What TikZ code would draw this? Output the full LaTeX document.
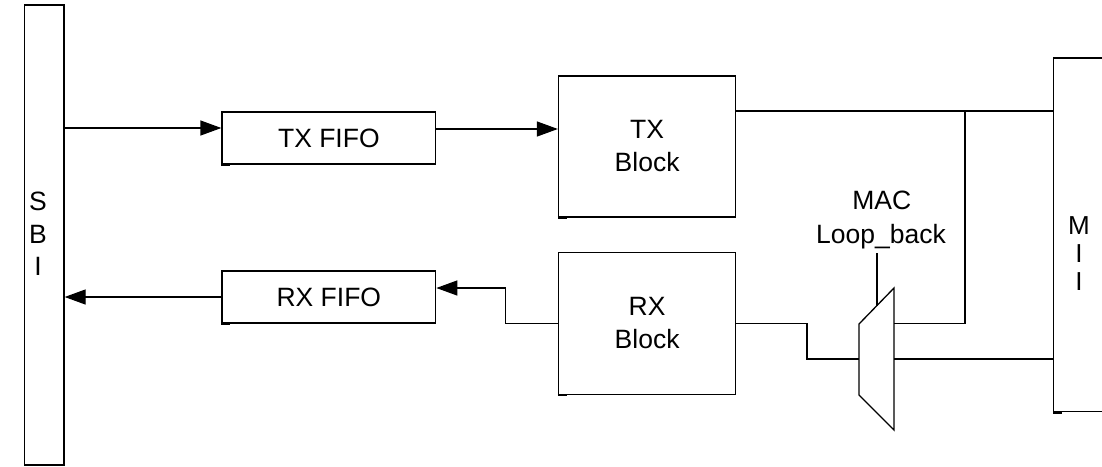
\documentclass[tikz,border=0pt]{standalone}
\usepackage{fontspec}
\setmainfont{Liberation Sans}
\usetikzlibrary{arrows.meta}
\begin{document}
\begin{tikzpicture}[x=1pt,y=-1pt,
  line width=1.3pt,
  blk/.style={draw, rectangle, inner sep=0pt, align=center,
    font=\fontsize{26.5}{33}\selectfont},
  lbl/.style={inner sep=0pt, align=center},
  arr/.style={-{Triangle[length=21pt,width=15pt]}},
  shade/.style={line width=2.4pt}]
\clip (0,0) rectangle (1102,466);
\fill[white] (0,0) rectangle (1102,466);
% boxes
\node[blk, minimum width=39.5, minimum height=460] (sbi) at (44.25,235) {};
\node[lbl, font=\fontsize{26.5}{32.7}\selectfont] (sbit) at (38,234) {S\\B\\I};
\node[blk, minimum width=213.7, minimum height=52] (txf) at (328.85,138) {TX FIFO};
\node[blk, minimum width=213.7, minimum height=52] (rxf) at (328.85,297) {RX FIFO};
\node[blk, minimum width=177.2, minimum height=141] (txb) at (647.1,146.5) {TX\\Block};
\node[blk, minimum width=177.2, minimum height=142] (rxb) at (647.1,323.3) {RX\\Block};
\node[blk, minimum width=66.3, minimum height=353.7] (mii) at (1086.85,234.85) {};
\node[lbl, font=\fontsize{26}{28}\selectfont] (miit) at (1079,254) {M\\I\\I};
% shadow ticks
\draw[shade] (txf.south west) -- ++(9,0);
\draw[shade] (rxf.south west) -- ++(9,0);
\draw[shade] (txb.south west) -- ++(9,0);
\draw[shade] (rxb.south west) -- ++(9,0);
\draw[shade] (mii.south west) -- ++(9,0);
% mux
\coordinate (mA) at (859,324);
\coordinate (mB) at (894,288);
\coordinate (mC) at (894,430);
\coordinate (mD) at (859,395);
\draw[fill=white] (mA) -- (mB) -- (mC) -- (mD) -- cycle;
\coordinate (muxr1) at (894,323.5);
\coordinate (muxr2) at (894,359);
\coordinate (muxl) at (859,359);
\coordinate (muxsel) at (877,305.5);
\node[lbl, anchor=base, font=\fontsize{26.5}{33}\selectfont] (mac1) at (881.7,209.3) {MAC};
\node[lbl, anchor=base, font=\fontsize{26.5}{33}\selectfont] (mac2) at (881,243.3) {Loop\_back};
% connectors
\draw[arr] ([yshift=10pt]txf.west -| sbi.east) -- ([yshift=10pt]txf.west);
\draw[arr] ([yshift=9pt]txf.east) -- ([yshift=9pt]txf.east -| txb.west);
\draw ([yshift=35.5pt]txb.east) -- ([yshift=35.5pt]txb.east -| mii.west);
\coordinate (j1) at ([yshift=35.5pt]txb.east -| 965,0);
\draw (j1) |- (muxr1);
\draw[arr] (rxb.west) -- ++(-52.5,0) |- ([yshift=9pt]rxf.east);
\draw[arr] (rxf.west) -- (rxf.west -| sbi.east);
\draw (rxb.east) -- ++(70.5,0) |- (muxl);
\draw (muxr2) -- (muxr2 -| mii.west);
\draw (muxsel) -- ++(0,-52.5);
\end{tikzpicture}
\end{document}
